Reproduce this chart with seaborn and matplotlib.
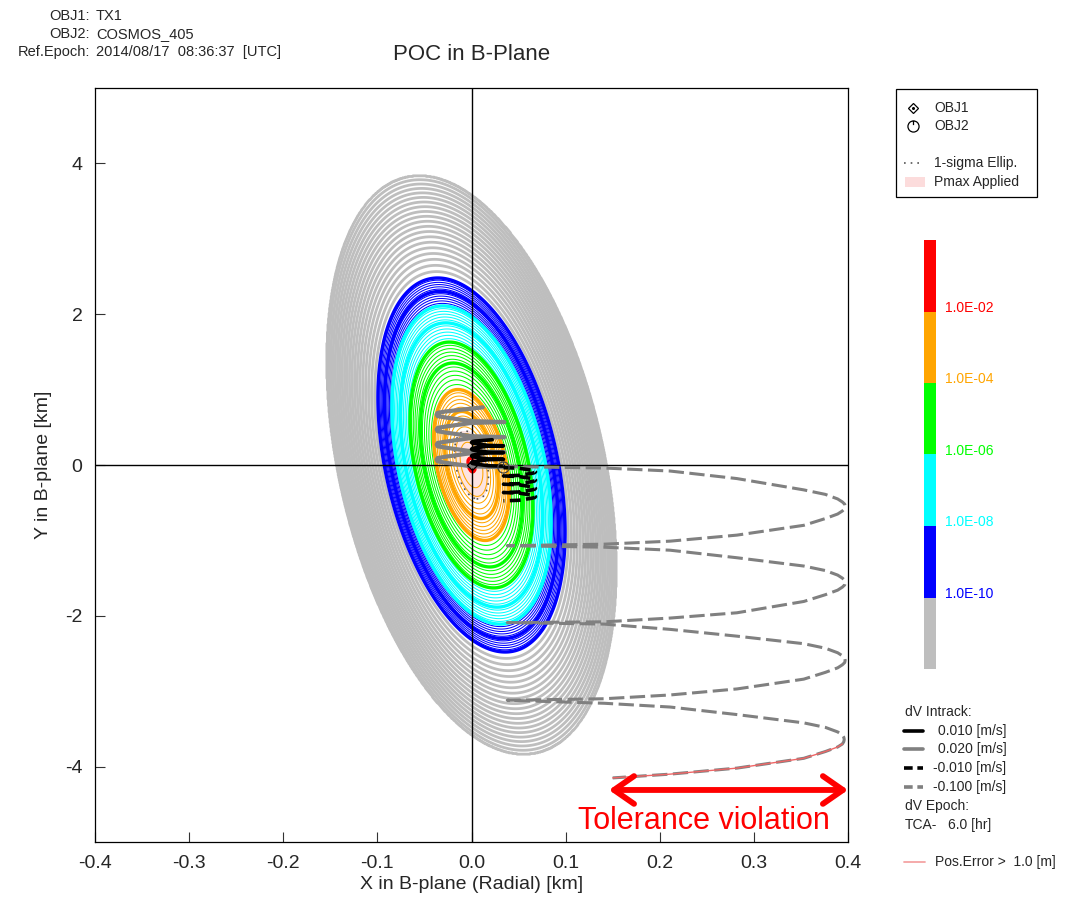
import numpy as np
import matplotlib
matplotlib.use("Agg")
import matplotlib.pyplot as plt
import matplotlib.path as mpath
import matplotlib.transforms as mtransforms
from matplotlib.colors import ListedColormap, BoundaryNorm
from matplotlib.cm import ScalarMappable
from matplotlib.patches import Rectangle
import seaborn as sns

# ---------------- text / axes data ----------------
header_keys = ["OBJ1:", "OBJ2:", "Ref.Epoch:"]
header_values = ["TX1", "COSMOS_405", "2014/08/17  08:36:37  [UTC]"]
chart_title = "POC in B-Plane"
x_label = "X in B-plane (Radial) [km]"
y_label = "Y in B-plane [km]"
x_ticks = [-0.4, -0.3, -0.2, -0.1, 0.0, 0.1, 0.2, 0.3, 0.4]
y_ticks = [-4, -2, 0, 2, 4]

# ---------------- POC contour model ----------------
ellipse_x_per_y = 0.0401          # x half-extent per km of y half-extent
ellipse_rho = -0.36               # tilt (correlation)
contour_radius_km = [0.0, 0.09, 1.00, 1.63, 2.11, 2.48, 3.84]   # y half-extent
contour_log10_pc = [-1.9, -2.0, -4.0, -6.0, -8.0, -10.0, -20.0]
sigma1_radius_km = 0.45
band_lower = [-10, -8, -6, -4, -2]
band_colors = ["#0000ff", "#00ffff", "#00ff00", "#ffa500", "#ff0000"]
gray_color = "#bebebe"
colorbar_labels = ["1.0E-10", "1.0E-08", "1.0E-06", "1.0E-04", "1.0E-02"]
minor_per_decade = 6
gray_step = 0.5

# ---------------- dV trajectories in B-plane ----------------
dv_p010_x = [0.034, 0.018, 0.004, 0.001, 0.000, 0.001, 0.004, 0.018, 0.034,
             0.018, 0.004, 0.001, 0.000, 0.001, 0.004, 0.018, 0.034,
             0.018, 0.004, 0.001, 0.000, 0.001, 0.004, 0.018, 0.034,
             0.018, 0.004, 0.001, 0.000, 0.001, 0.004, 0.022]
dv_p010_y = [-0.015, -0.010, 0.013, 0.020, 0.030, 0.040, 0.047, 0.070, 0.075,
             0.080, 0.103, 0.110, 0.120, 0.130, 0.137, 0.160, 0.165,
             0.170, 0.193, 0.200, 0.210, 0.220, 0.227, 0.250, 0.255,
             0.260, 0.283, 0.290, 0.300, 0.310, 0.317, 0.335]

dv_p020_x = [0.035, 0.000, -0.028, -0.036, -0.037, -0.036, -0.028, 0.000, 0.035,
             0.000, -0.028, -0.036, -0.037, -0.036, -0.028, 0.000, 0.035,
             0.000, -0.028, -0.036, -0.037, -0.036, -0.028, 0.000, 0.035,
             0.000, -0.028, -0.036, -0.037, -0.036, -0.028, 0.012]
dv_p020_y = [-0.030, -0.018, 0.031, 0.048, 0.070, 0.092, 0.109, 0.158, 0.170,
             0.182, 0.231, 0.248, 0.270, 0.292, 0.309, 0.358, 0.370,
             0.382, 0.431, 0.448, 0.470, 0.492, 0.509, 0.558, 0.570,
             0.582, 0.631, 0.648, 0.670, 0.692, 0.709, 0.765]

dv_m010_x = [0.034, 0.050, 0.064, 0.067, 0.068, 0.067, 0.064, 0.050, 0.034,
             0.050, 0.064, 0.067, 0.068, 0.067, 0.064, 0.050, 0.034,
             0.050, 0.064, 0.067, 0.068, 0.067, 0.064, 0.050, 0.034,
             0.050, 0.064, 0.067, 0.068, 0.067, 0.064, 0.050, 0.034]
dv_m010_y = [-0.035, -0.042, -0.069, -0.078, -0.090, -0.102, -0.111, -0.138, -0.145,
             -0.152, -0.179, -0.188, -0.200, -0.212, -0.221, -0.248, -0.255,
             -0.262, -0.289, -0.298, -0.310, -0.322, -0.331, -0.358, -0.365,
             -0.372, -0.399, -0.408, -0.420, -0.432, -0.441, -0.468, -0.475]

dv_m100_x = [0.033, 0.141, 0.211, 0.282, 0.353, 0.376, 0.389, 0.394, 0.3965, 0.397,
             0.3965, 0.394, 0.389, 0.376, 0.353, 0.282, 0.211, 0.141, 0.038,
             0.141, 0.211, 0.282, 0.353, 0.376, 0.389, 0.394, 0.3965, 0.397,
             0.3965, 0.394, 0.389, 0.376, 0.353, 0.282, 0.211, 0.141, 0.038,
             0.141, 0.211, 0.282, 0.353, 0.376, 0.389, 0.394, 0.3965, 0.397,
             0.3965, 0.394, 0.389, 0.376, 0.353, 0.282, 0.211, 0.141, 0.038,
             0.141, 0.211, 0.282, 0.353, 0.376, 0.389, 0.394, 0.3955, 0.396,
             0.3955, 0.394, 0.389, 0.376, 0.353, 0.282, 0.211, 0.150]
dv_m100_y = [-0.02, -0.04, -0.08, -0.18, -0.33, -0.39, -0.45, -0.49, -0.52, -0.55,
             -0.58, -0.61, -0.65, -0.71, -0.80, -0.93, -1.01, -1.05, -1.07,
             -1.09, -1.13, -1.23, -1.34, -1.40, -1.46, -1.50, -1.53, -1.56,
             -1.59, -1.62, -1.66, -1.72, -1.81, -1.96, -2.03, -2.08, -2.09,
             -2.11, -2.18, -2.27, -2.37, -2.43, -2.49, -2.53, -2.56, -2.59,
             -2.62, -2.65, -2.69, -2.75, -2.84, -2.97, -3.05, -3.10, -3.12,
             -3.16, -3.21, -3.31, -3.42, -3.48, -3.54, -3.58, -3.61, -3.64,
             -3.67, -3.70, -3.74, -3.80, -3.89, -4.02, -4.10, -4.15]
pos_error_from_y = -3.69

obj1_xy = (0.0, 0.0)
obj2_xy = (0.033, -0.03)
tolerance_x = (0.146, 0.400)
tolerance_y = -4.31
tolerance_text = "Tolerance violation"
tolerance_text_xy = (0.247, -4.72)

# ---------------- style ----------------
sns.set_theme(style="ticks")
plt.rcParams["font.family"] = ["Liberation Sans", "DejaVu Sans"]
plt.rcParams["axes.edgecolor"] = "black"
plt.rcParams["axes.linewidth"] = 0.9
plt.rcParams["contour.negative_linestyle"] = "solid"

W, H = 1074, 905
fig = plt.figure(figsize=(W / 100, H / 100), dpi=100)
ax = fig.add_axes([95 / W, 1 - 842 / H, 753 / W, 754 / H])

# ---------------- contours ----------------
xg = np.linspace(-0.2, 0.2, 700)
yg = np.linspace(-4.3, 4.3, 1000)
X, Y = np.meshgrid(xg, yg)
a, rho = ellipse_x_per_y, ellipse_rho
M2 = (X ** 2 - 2 * rho * a * X * Y + a ** 2 * Y ** 2) / (a ** 2 * (1 - rho ** 2))
L = np.interp(M2, np.array(contour_radius_km) ** 2, contour_log10_pc, right=-40.0)

gray_levels = np.arange(contour_log10_pc[-1], band_lower[0], gray_step)
ax.contour(X, Y, L, levels=gray_levels, colors=gray_color, linewidths=2.0,
           linestyles="solid", zorder=1)

# Pmax applied area
ax.contourf(X, Y, np.sqrt(M2), levels=[0, sigma1_radius_km], colors=["#fde4e1"], zorder=0.8)

lmax = contour_log10_pc[0]
for lo, col in zip(band_lower, band_colors):
    lv = lo + np.arange(2 * minor_per_decade) / minor_per_decade
    lv = lv[lv < lmax]
    isint = np.isclose(lv, np.round(lv))
    thick = lv[isint]
    thin = lv[~isint]
    if len(thin):
        ax.contour(X, Y, L, levels=thin, colors=col, linewidths=0.75,
                   linestyles="solid", zorder=1.2)
    if len(thick):
        ax.contour(X, Y, L, levels=thick, colors=col, linewidths=2.4,
                   linestyles="solid", zorder=1.3)

# 1-sigma ellipse
ax.contour(X, Y, np.sqrt(M2), levels=[sigma1_radius_km], colors="#555555",
           linewidths=1.2, linestyles=[(0, (1, 3))], zorder=3)

# reference axes
ax.axhline(0, color="black", lw=1.0, zorder=2.5)
ax.axvline(0, color="black", lw=1.0, zorder=2.5)

# ---------------- trajectories ----------------
sns.lineplot(x=dv_m100_x, y=dv_m100_y, sort=False, estimator=None, ax=ax,
             color="#808080", linewidth=2.2, linestyle=(0, (5, 1.8)), zorder=4)
sns.lineplot(x=dv_p020_x, y=dv_p020_y, sort=False, estimator=None, ax=ax,
             color="#808080", linewidth=3.0, zorder=4)
sns.lineplot(x=dv_p010_x, y=dv_p010_y, sort=False, estimator=None, ax=ax,
             color="black", linewidth=2.6, zorder=4.2)
sns.lineplot(x=dv_m010_x, y=dv_m010_y, sort=False, estimator=None, ax=ax,
             color="black", linewidth=2.6, linestyle=(0, (3, 1.5)), zorder=4.2)

mx = np.array(dv_m100_x)
my = np.array(dv_m100_y)
sel = my <= pos_error_from_y
sns.lineplot(x=mx[sel], y=my[sel], sort=False, estimator=None, ax=ax,
             color="#ee6666", linewidth=1.0, zorder=4.5)

# object markers
circ = mpath.Path.unit_circle()
obj2_marker = mpath.Path(np.concatenate([circ.vertices, [[0, 1.0], [0, 0.25]]]),
                         np.concatenate([circ.codes, [mpath.Path.MOVETO, mpath.Path.LINETO]]))
ax.plot([obj1_xy[0]], [obj1_xy[1]], marker="D", ms=5, mfc="none", mec="black", mew=0.9, ls="none", zorder=5)
ax.plot([obj2_xy[0]], [obj2_xy[1]], marker=obj2_marker, ms=8, mfc="none", mec="#444444", mew=0.9, ls="none", zorder=5)

# tolerance annotation
ax.annotate("", xy=(tolerance_x[1], tolerance_y), xytext=(tolerance_x[0], tolerance_y),
            arrowprops=dict(arrowstyle="<->,head_length=0.72,head_width=0.5", lw=4.2,
                            color="red", mutation_scale=20, shrinkA=0, shrinkB=0),
            annotation_clip=False, zorder=6)
ax.text(tolerance_text_xy[0], tolerance_text_xy[1], tolerance_text, color="red",
        fontsize=22, ha="center", va="center", zorder=6)

# ---------------- axes cosmetics ----------------
ax.set_xlim(-0.4, 0.4)
ax.set_ylim(-5, 5)
ax.set_xticks(x_ticks)
ax.set_xticklabels([f"{v:.1f}" for v in x_ticks])
ax.set_yticks(y_ticks)
ax.set_yticklabels([f"{v:d}" for v in y_ticks])
ax.tick_params(direction="in", length=7, width=0.8, labelsize=14, pad=9,
               top=False, right=False, color="#333333")
ax.set_xlabel(x_label, fontsize=14, labelpad=3)
ax.set_ylabel(y_label, fontsize=14, labelpad=9)
ax.set_title(chart_title, fontsize=16, pad=20)
for s in ax.spines.values():
    s.set_visible(True)
    s.set_color("black")
    s.set_linewidth(0.9)

# ---------------- colorbar ----------------
cmap = ListedColormap([gray_color] + band_colors)
bounds = [band_lower[0] - 2] + band_lower + [band_lower[-1] + 2]
norm = BoundaryNorm(bounds, cmap.N)
cax = fig.add_axes([924 / W, 1 - 669 / H, 12 / W, 429 / H])
cb = fig.colorbar(ScalarMappable(norm=norm, cmap=cmap), cax=cax, ticks=[])
cb.outline.set_visible(False)
cax.minorticks_off()
cax.set_yticks([])
cax.tick_params(which="both", length=0, left=False, right=False)
blend = mtransforms.blended_transform_factory(cax.transAxes, cax.transData)
for b, lab, col in zip(band_lower, colorbar_labels, band_colors):
    cax.text(1.75, b + 0.11, lab, transform=blend, color=col, fontsize=10,
             ha="left", va="center")

# ---------------- overlay for header & legends (pixel coords) ----------------
lax = fig.add_axes([0, 0, 1, 1])
lax.set_xlim(0, W)
lax.set_ylim(H, 0)
lax.axis("off")

for i, (k, v) in enumerate(zip(header_keys, header_values)):
    yy = 16 + 18 * i
    lax.text(90, yy, k, ha="right", va="center", fontsize=10.5)
    lax.text(96, yy, v, ha="left", va="center", fontsize=10.5)

# legend 1
lax.add_patch(Rectangle((896, 89), 141, 108, fill=False, edgecolor="black", lw=0.9))
lax.plot([913], [108], marker="D", ms=5, mfc="none", mec="black", mew=0.9, ls="none")
lax.plot([913], [108], marker="o", ms=1.2, color="black", ls="none")
lax.plot([913], [126], marker=obj2_marker, ms=8, mfc="none", mec="black", mew=0.9, ls="none")
lax.text(934, 108, "OBJ1", va="center", fontsize=10)
lax.text(934, 126, "OBJ2", va="center", fontsize=10)
lax.plot([904, 923], [163, 163], color="#555555", lw=1.2, ls=(0, (1, 3)))
lax.text(934, 163, "1-sigma Ellip.", va="center", fontsize=10)
lax.add_patch(Rectangle((905, 177), 20, 10, facecolor="#fcdcdc", edgecolor="none"))
lax.text(934, 182, "Pmax Applied", va="center", fontsize=10)

# legend 2
lax.text(905, 712, "dV Intrack:", va="center", fontsize=10)
lax.plot([904, 923], [731, 731], color="black", lw=2.6)
lax.plot([904, 923], [749, 749], color="#808080", lw=2.6)
lax.plot([904, 923], [768, 768], color="black", lw=2.6, ls=(0, (2.4, 1.3)))
lax.plot([904, 923], [787, 787], color="#808080", lw=2.6, ls=(0, (2.4, 1.3)))
lax.text(938, 731, "0.010 [m/s]", va="center", fontsize=10)
lax.text(938, 749, "0.020 [m/s]", va="center", fontsize=10)
lax.text(933, 768, "-0.010 [m/s]", va="center", fontsize=10)
lax.text(933, 787, "-0.100 [m/s]", va="center", fontsize=10)
lax.text(905, 806, "dV Epoch:", va="center", fontsize=10)
lax.text(905, 825, "TCA-", va="center", fontsize=10)
lax.text(948, 825, "6.0 [hr]", va="center", fontsize=10)
lax.plot([904, 925], [862, 862], color="#f4a4a4", lw=1.3)
lax.text(935, 862, "Pos.Error >  1.0 [m]", va="center", fontsize=10)

fig.savefig("out.png", dpi=100)
